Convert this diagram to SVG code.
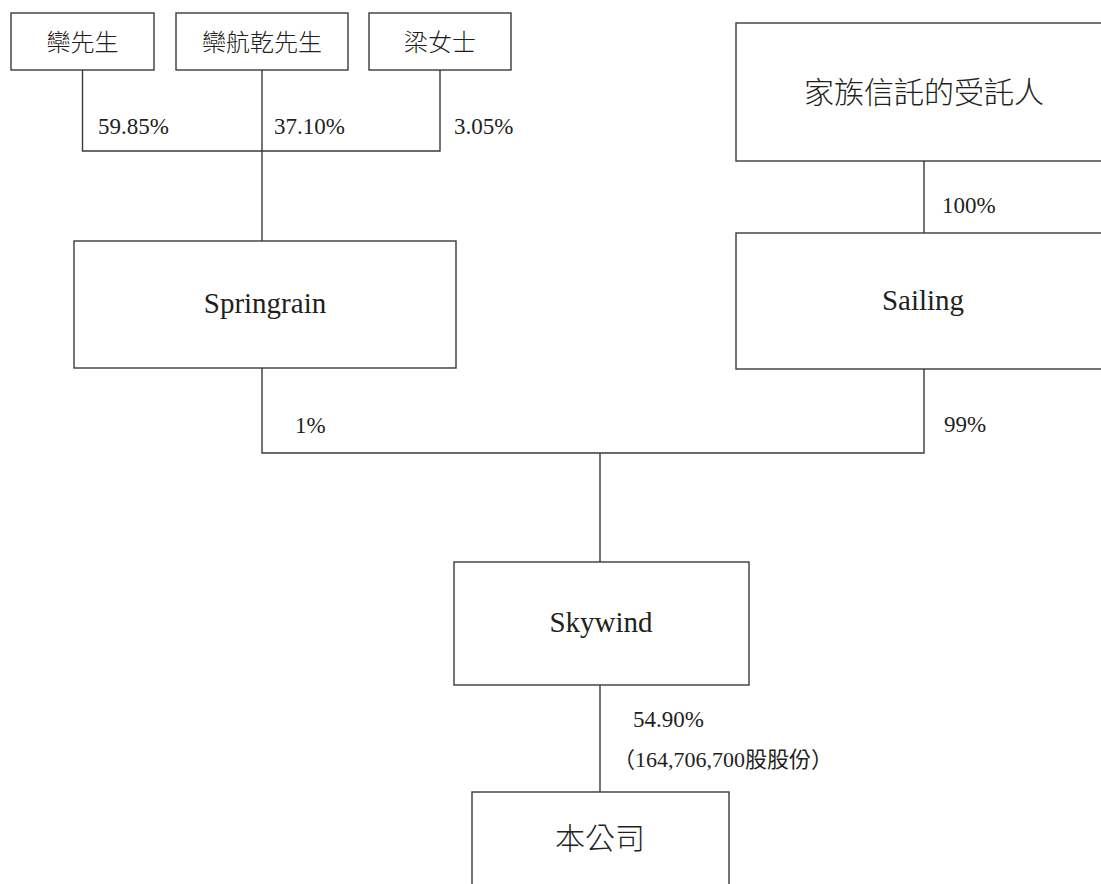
<svg xmlns="http://www.w3.org/2000/svg" width="1101" height="884" viewBox="0 0 1101 884">
<style>
.box{fill:#fff;stroke:#3a3a3a;stroke-width:1.4}
.ln{fill:none;stroke:#3a3a3a;stroke-width:1.4}
text{font-family:"Liberation Serif","Noto Sans CJK TC",serif;fill:#231f20}
.cjk{font-family:"Noto Sans CJK TC","Liberation Serif",sans-serif;font-weight:300}
.lab{font-size:23px}
.big{font-size:29px;text-anchor:middle}
</style>
<rect width="1101" height="884" fill="#fff"/>
<g id="connectors">
<path class="ln" d="M82.5,70 V151 H440 V70"/>
<path class="ln" d="M262,70 V241"/>
<path class="ln" d="M924,161 V233"/>
<path class="ln" d="M262,368 V453 H924 V369"/>
<path class="ln" d="M600,453 V562"/>
<path class="ln" d="M600,685 V792"/>
</g>
<g id="n-luan">
<rect class="box" x="11" y="13" width="143" height="57"/>
<text class="cjk" x="82.5" y="51" font-size="24" text-anchor="middle">欒先生</text>
</g>
<g id="n-luanhangqian">
<rect class="box" x="176" y="13" width="172" height="57"/>
<text class="cjk" x="262" y="51" font-size="24" text-anchor="middle">欒航乾先生</text>
</g>
<g id="n-liang">
<rect class="box" x="369" y="13" width="142" height="57"/>
<text class="cjk" x="440" y="51" font-size="24" text-anchor="middle">梁女士</text>
</g>
<g id="n-trustee">
<rect class="box" x="736" y="23" width="376" height="138"/>
<text class="cjk" x="924" y="103" font-size="30" text-anchor="middle">家族信託的受託人</text>
</g>
<g id="n-springrain">
<rect class="box" x="74" y="241" width="382" height="127"/>
<text class="big" x="265" y="313">Springrain</text>
</g>
<g id="n-sailing">
<rect class="box" x="736" y="233" width="376" height="136"/>
<text class="big" x="923" y="310">Sailing</text>
</g>
<g id="n-skywind">
<rect class="box" x="454" y="562" width="295" height="123"/>
<text class="big" x="601" y="632">Skywind</text>
</g>
<g id="n-company">
<rect class="box" x="472" y="792" width="257" height="120"/>
<text class="cjk" x="600" y="849" font-size="30" text-anchor="middle">本公司</text>
</g>
<g id="labels">
<text class="lab" x="98" y="134">59.85%</text>
<text class="lab" x="274" y="134">37.10%</text>
<text class="lab" x="454" y="134">3.05%</text>
<text class="lab" x="942" y="213">100%</text>
<text class="lab" x="295" y="433">1%</text>
<text class="lab" x="944" y="432">99%</text>
<text class="lab" x="633" y="727">54.90%</text>
<text x="613" y="767" font-size="22">（164,706,700股股份）</text>
</g>
</svg>
